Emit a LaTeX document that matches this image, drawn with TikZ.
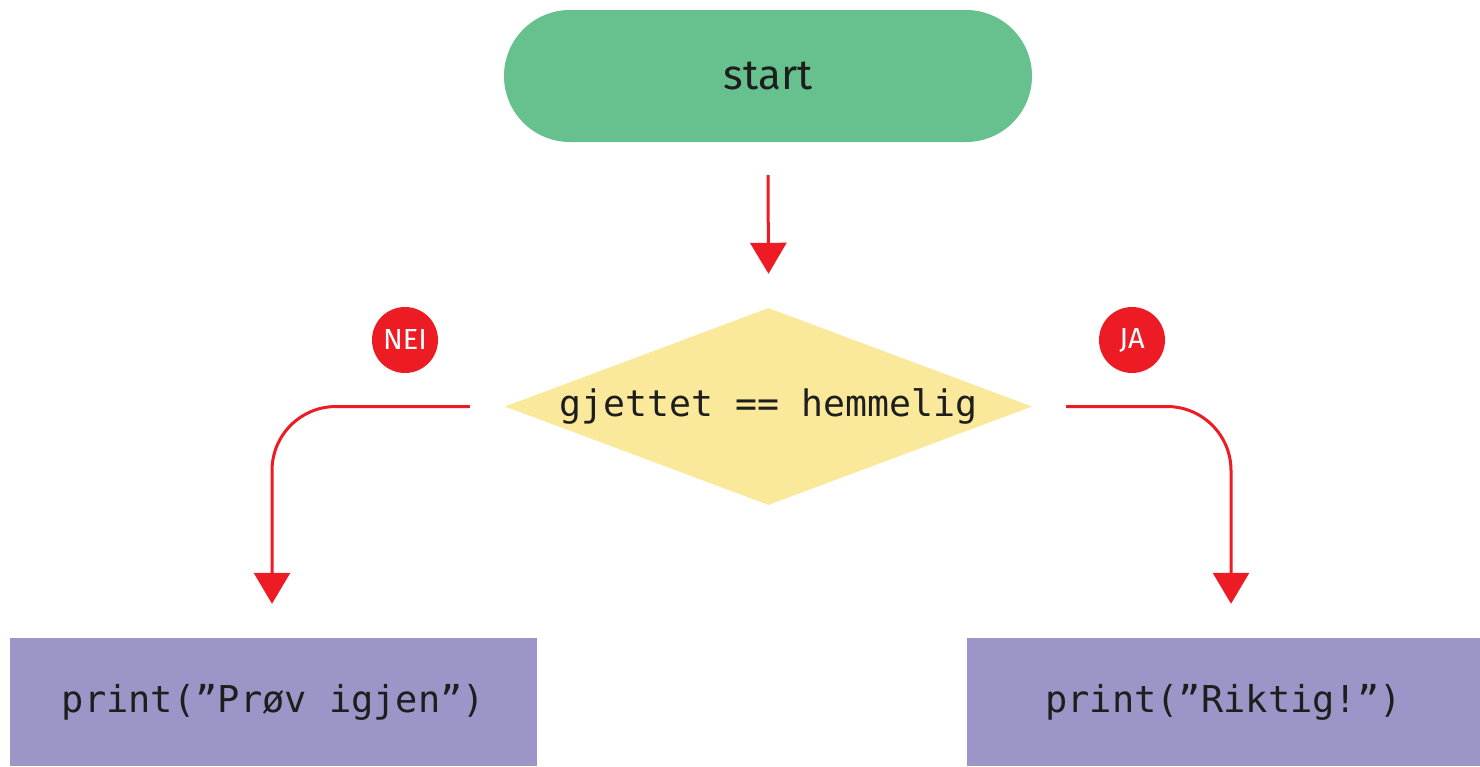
\documentclass[tikz,border=0pt]{standalone}
\usepackage{fontspec}
\setmainfont{Fira Sans}
\setmonofont{DejaVu Sans Mono}
\usetikzlibrary{shapes.geometric,arrows.meta}
\definecolor{startgreen}{RGB}{103,193,142}
\definecolor{decyellow}{RGB}{250,233,154}
\definecolor{boxpurple}{RGB}{156,149,200}
\definecolor{arrred}{RGB}{237,28,36}
\definecolor{txtdark}{RGB}{30,30,30}
\tikzset{
  startbox/.style={rectangle, rounded corners=66pt, fill=startgreen, minimum width=528pt, minimum height=132pt, inner sep=0pt, text=txtdark, font=\fontsize{42pt}{48pt}\selectfont},
  decbox/.style={diamond, fill=decyellow, minimum width=527pt, minimum height=197pt, inner sep=0pt, shape aspect=2.67, text=txtdark, font=\ttfamily\fontsize{36.5pt}{40pt}\selectfont},
  printbox/.style={rectangle, fill=boxpurple, minimum height=128pt, inner sep=0pt, text=txtdark, font=\ttfamily\fontsize{37pt}{40pt}\selectfont},
  badge/.style={circle, fill=arrred, minimum size=66pt, inner sep=0pt, text=white, font=\fontsize{29pt}{34pt}\selectfont},
  arr/.style={draw=arrred, line width=3pt, -{Triangle[width=36pt,length=31pt]}}
}
\begin{document}
\begin{tikzpicture}[x=1pt,y=-1pt]
\useasboundingbox (0,0) rectangle (1480,766);
\node[startbox] (start) at (768,76) {start};
\node[decbox] (dec) at (768.5,406.5) {gjettet == hemmelig};
\node[printbox, minimum width=527pt] (left) at (273.5,702) {print(”Prøv igjen”)};
\node[printbox, minimum width=513pt] (right) at (1223.5,702) {print(”Riktig!”)};
\node[badge] (nei) at (405,340) {NEI};
\node[badge] (ja) at (1132,340) {JA};
\coordinate (leftend) at ([xshift=-1.5pt,yshift=34pt]left.north);
\coordinate (rightend) at ([xshift=7.5pt,yshift=34pt]right.north);
\draw[arr] ([yshift=-33pt]start.south) -- ([yshift=34pt]dec.north);
\draw[arr, rounded corners=64pt] ([xshift=-35pt]dec.west) -| (leftend);
\draw[arr, rounded corners=64pt] ([xshift=34pt]dec.east) -| (rightend);
\end{tikzpicture}
\end{document}
